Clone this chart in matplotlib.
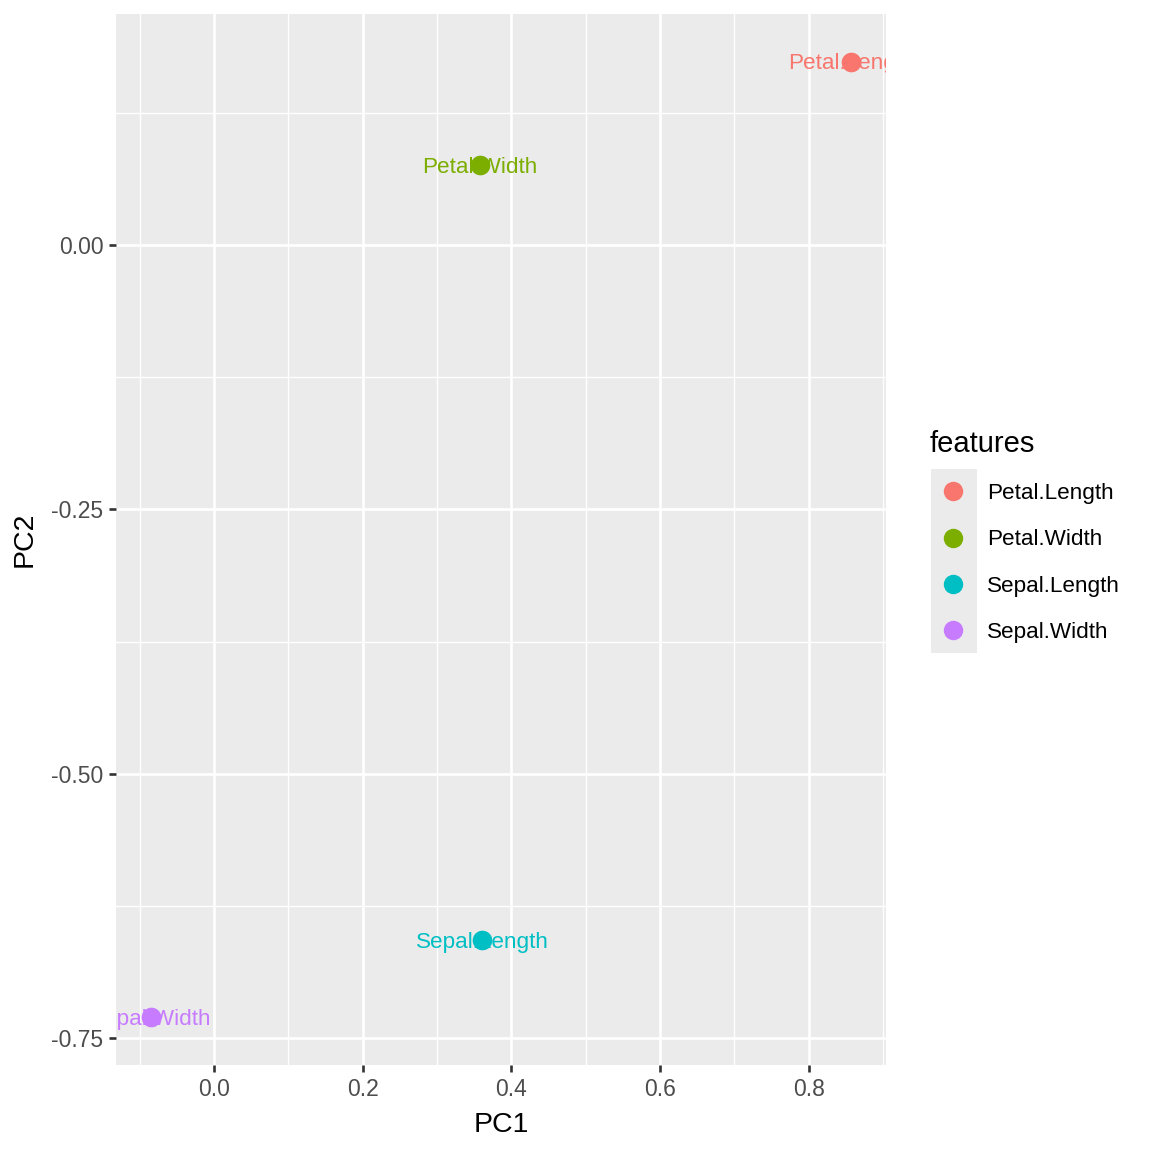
import matplotlib
matplotlib.use("Agg")
import matplotlib.pyplot as plt
from matplotlib.ticker import FixedLocator
from matplotlib.lines import Line2D
from matplotlib.patches import Rectangle

# PCA loadings (iris)
features = ["Petal.Length", "Petal.Width", "Sepal.Length", "Sepal.Width"]
pc1 = [0.857, 0.358, 0.361, -0.085]
pc2 = [0.173, 0.075, -0.657, -0.730]
colors = ["#F8766D", "#7CAE00", "#00BFC4", "#C77CFF"]

plt.rcParams["font.family"] = ["Liberation Sans", "DejaVu Sans"]

fig = plt.figure(figsize=(11.52, 11.52), dpi=100)
ax = fig.add_axes([116 / 1152, 1 - 1065 / 1152, (886 - 116) / 1152, (1065 - 14) / 1152])
ax.set_facecolor("#EBEBEB")

# limits like ggplot (5% expansion)
xr = max(pc1) - min(pc1)
yr = max(pc2) - min(pc2)
ax.set_xlim(min(pc1) - 0.05 * xr, max(pc1) + 0.05 * xr)
ax.set_ylim(min(pc2) - 0.05 * yr, max(pc2) + 0.05 * yr)

ax.xaxis.set_major_locator(FixedLocator([0.0, 0.2, 0.4, 0.6, 0.8]))
ax.xaxis.set_minor_locator(FixedLocator([-0.1, 0.1, 0.3, 0.5, 0.7, 0.9]))
ax.yaxis.set_major_locator(FixedLocator([0.0, -0.25, -0.5, -0.75]))
ax.yaxis.set_minor_locator(FixedLocator([0.125, -0.125, -0.375, -0.625]))
ax.set_xticklabels(["0.0", "0.2", "0.4", "0.6", "0.8"])
ax.set_yticklabels(["0.00", "-0.25", "-0.50", "-0.75"])

ax.grid(which="major", color="white", linewidth=1.9)
ax.grid(which="minor", color="white", linewidth=0.95)
ax.set_axisbelow(True)
for s in ax.spines.values():
    s.set_visible(False)

ax.tick_params(which="major", length=5, width=1.9, color="#333333",
               labelsize=16.5, labelcolor="#4D4D4D", pad=4)
ax.tick_params(which="minor", length=0)

for x, y, c, f in zip(pc1, pc2, colors, features):
    ax.scatter(x, y, s=200, color=c, zorder=3, linewidths=0)
    ax.text(x, y - 0.002, f, color=c, fontsize=16.2, ha="center", va="center",
            zorder=4, clip_on=True)

ax.set_xlabel("PC1", fontsize=20.5, labelpad=8)
ax.set_ylabel("PC2", fontsize=20.5, labelpad=10)

# legend
handles = [Line2D([], [], marker="o", linestyle="", markersize=14, color=c,
                  markeredgewidth=0) for c in colors]
leg = fig.legend(handles, features, title="features", loc="upper left",
                 bbox_to_anchor=(921 / 1152, 1 - 421 / 1152), frameon=False,
                 fontsize=16.2, title_fontsize=21, handlelength=2.0,
                 handletextpad=0.55, labelspacing=1.12, borderaxespad=0)
leg._legend_box.align = "left"

# grey key background
fig.patches.append(Rectangle((931 / 1152, 1 - 653 / 1152), 46 / 1152, 184 / 1152,
                             transform=fig.transFigure, facecolor="#EBEBEB",
                             edgecolor="none", zorder=0))

fig.savefig("out.png", dpi=100)
